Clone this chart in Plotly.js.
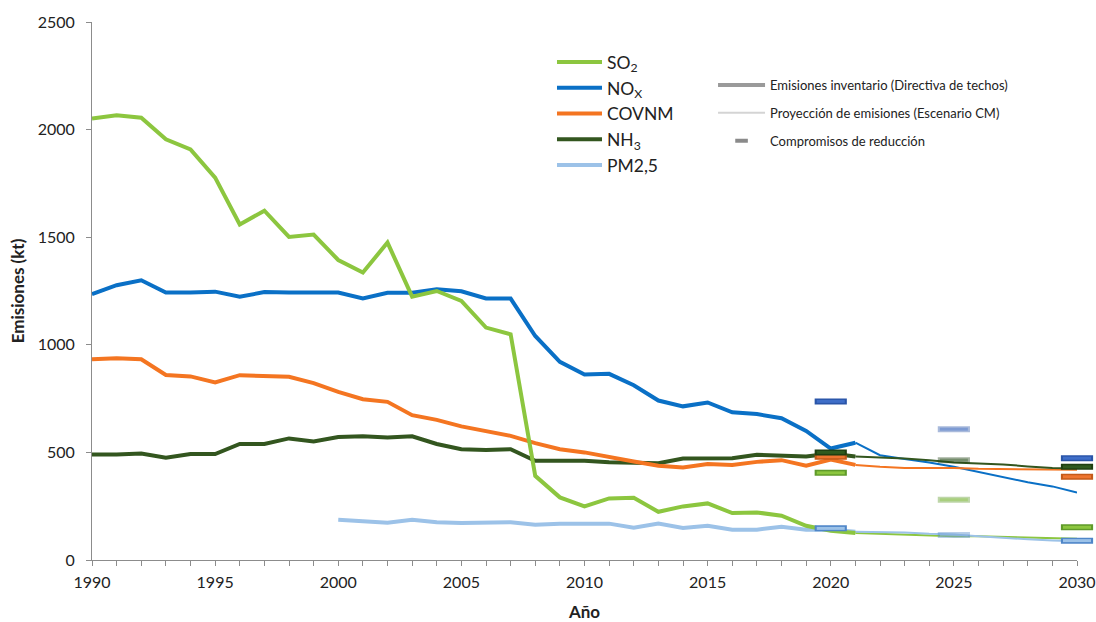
<!DOCTYPE html>
<html>
<head>
<meta charset="utf-8">
<script src="https://cdn.plot.ly/plotly-3.0.1.min.js"></script>
<style>html,body{margin:0;padding:0;background:#fff;}#chart{width:1096px;height:622px;}</style>
</head>
<body>
<div id="chart"></div>
<script>
// ---- Data ----
const yearsInv = [1990,1991,1992,1993,1994,1995,1996,1997,1998,1999,2000,2001,2002,2003,2004,2005,2006,2007,2008,2009,2010,2011,2012,2013,2014,2015,2016,2017,2018,2019,2020,2021];
const so2Inv   = [2052,2067,2055,1955,1908,1777,1559,1623,1501,1512,1394,1336,1475,1224,1250,1204,1080,1049,391,291,249,286,289,224,249,263,218,221,206,159,136,125];
const noxInv   = [1235,1277,1300,1243,1243,1247,1223,1245,1243,1243,1243,1215,1242,1242,1258,1249,1215,1215,1041,921,862,865,812,741,714,732,686,678,659,600,518,545];
const covnmInv = [933,938,933,860,853,825,859,853,851,822,781,747,735,673,651,621,597,577,543,515,500,481,458,438,430,446,441,456,464,438,467,442];
const nh3Inv   = [490,490,495,475,492,492,539,539,565,551,572,575,569,575,539,515,511,515,461,461,461,454,450,450,472,473,473,489,485,481,495,481];
const pm25Inv  = [null,null,null,null,null,null,null,null,null,null,187,180,173,187,175,172,175,175,164,169,169,169,150,169,149,159,141,141,155,141,141,131];

const yearsProj = [2021,2022,2023,2024,2025,2026,2027,2028,2029,2030];
const so2Proj   = [125,121,119,113,110,110,107,102,100,99];
const noxProj   = [545,487,469,453,433,410,387,361,342,314];
const covnmProj = [442,433,428,428,428,424,422,421,420,419];
const nh3Proj   = [481,477,472,464,453,449,444,435,428,426];
const pm25Proj  = [131,131,128,122,119,110,102,96,91,87];

const yearsCommit = [2020,2025,2030];
const so2Commit   = [405,280,152];
const noxCommit   = [737,608,473];
const covnmCommit = [480,null,387];
const nh3Commit   = [500,464,433];
const pm25Commit  = [147,116,90];

const names = ['SO<sub>2</sub>','NO<sub>X</sub>','COVNM','NH<sub>3</sub>','PM2,5'];
const legendStyleNames = ['Emisiones inventario (Directiva de techos)','Proyección de emisiones (Escenario CM)','Compromisos de reducción'];

// ---- Styles ----
const colors = ['#8cc63f','#0a70c6','#f47521','#33561f','#9cc2e8'];
const commitInner = ['#8cc63f','#3f6ec8','#ee7530','#2f5a1f','#9cc2e8'];
const commitBorder = ['#5f9a2a','#2a55a8','#c45a1a','#1f3f12','#4f86c8'];
const commitOpacity = [1,0.4,1];
const FONT = 'Lato, "Open Sans", sans-serif';

const invData = [so2Inv,noxInv,covnmInv,nh3Inv,pm25Inv];
const projData = [so2Proj,noxProj,covnmProj,nh3Proj,pm25Proj];
const commitData = [so2Commit,noxCommit,covnmCommit,nh3Commit,pm25Commit];

const traces = [];
projData.forEach((d,i)=>{
  traces.push({x:yearsProj,y:d,type:'scatter',mode:'lines',line:{color:colors[i],width:2},showlegend:false,hoverinfo:'skip'});
});
[4,3,2,1,0].forEach(i=>{
  traces.push({x:yearsInv,y:invData[i],type:'scatter',mode:'lines',name:names[i],line:{color:colors[i],width:4},
    legend:'legend',legendrank:i+1,connectgaps:false,hoverinfo:'skip'});
});
[2,4,0,3,1].forEach(i=>{
  traces.push({x:yearsCommit,y:commitData[i],type:'scatter',mode:'markers',showlegend:false,cliponaxis:false,hoverinfo:'skip',
    marker:{symbol:'line-ew',size:23,opacity:commitOpacity,line:{color:commitBorder[i],width:6}}});
  traces.push({x:yearsCommit,y:commitData[i],type:'scatter',mode:'markers',showlegend:false,cliponaxis:false,hoverinfo:'skip',
    marker:{symbol:'line-ew',size:20,opacity:commitOpacity,line:{color:commitInner[i],width:3}}});
});
traces.push({x:[null],y:[null],type:'scatter',mode:'lines',name:legendStyleNames[0],legend:'legend2',legendgroup:'a',line:{color:'#9a9a9a',width:4}});
traces.push({x:[null],y:[null],type:'scatter',mode:'lines',name:legendStyleNames[1],legend:'legend2',legendgroup:'b',line:{color:'#d4d4d4',width:2}});
traces.push({x:[null],y:[null],type:'scatter',mode:'markers',name:legendStyleNames[2],legend:'legend2',legendgroup:'c',marker:{symbol:'line-ew',size:9,line:{color:'#8a8a8a',width:4}}});

const axisCol = '#8c8c8c';
const layout = {
  width:1096,height:622,
  paper_bgcolor:'#fff',plot_bgcolor:'#fff',
  font:{family:FONT,color:'#222'},
  margin:{l:92,r:19,t:22,b:62,autoexpand:false},
  showlegend:true,
  xaxis:{range:[1990,2030],tick0:1990,dtick:5,ticks:'outside',ticklen:5,tickcolor:axisCol,showline:true,linecolor:axisCol,linewidth:1,
    showgrid:false,zeroline:false,tickfont:{size:16,color:'#222'},automargin:false,ticklabelstandoff:3,
    minor:{tick0:1990,dtick:1,ticks:'outside',ticklen:5,tickcolor:axisCol,showgrid:false},
    title:{text:'<b>Año</b>',font:{size:17,color:'#222'},standoff:16}},
  yaxis:{range:[0,2500],tick0:0,dtick:500,ticks:'outside',ticklen:5,tickcolor:axisCol,showline:true,linecolor:axisCol,linewidth:1,
    showgrid:false,zeroline:false,tickfont:{size:16,color:'#222'},automargin:false,ticklabelstandoff:8,
    title:{text:'<b>Emisiones (kt)</b>',font:{size:17,color:'#222'},standoff:8}},
  legend:{x:0.467,y:0.959,xanchor:'left',yanchor:'top',bgcolor:'rgba(0,0,0,0)',borderwidth:0,
    font:{size:17.5,color:'#222',family:FONT},itemwidth:45,traceorder:'normal'},
  legend2:{x:0.6305,y:0.9108,xanchor:'left',yanchor:'top',bgcolor:'rgba(0,0,0,0)',borderwidth:0,
    font:{size:13,color:'#222',family:FONT},itemwidth:47,traceorder:'grouped',tracegroupgap:8}
};

Plotly.newPlot('chart',traces,layout,{displayModeBar:false,staticPlot:true});
</script>
</body>
</html>
